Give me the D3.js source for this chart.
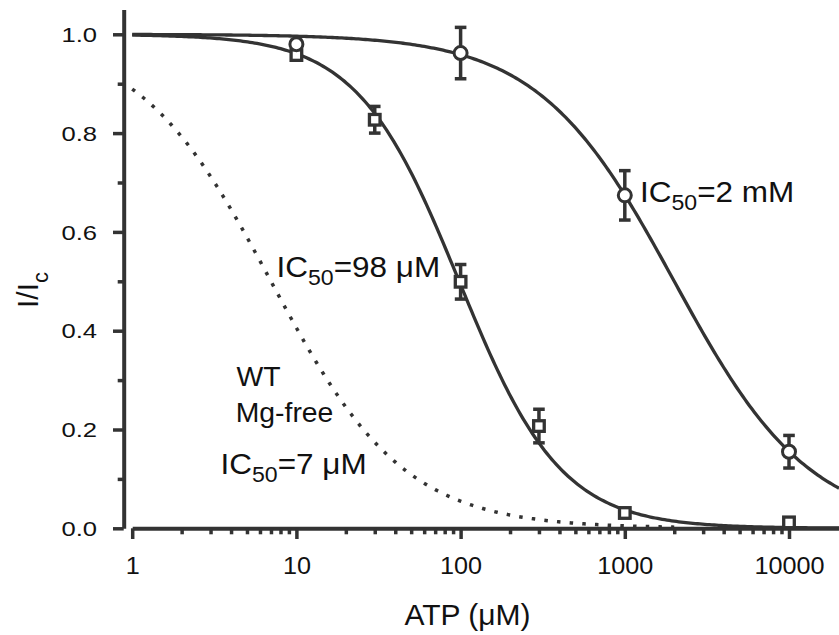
<!DOCTYPE html>
<html>
<head>
<meta charset="utf-8">
<script src="https://cdn.jsdelivr.net/npm/d3@7/dist/d3.min.js"></script>
<style>
  html, body { margin: 0; padding: 0; background: #fff; }
  svg { display: block; }
  text { font-family: "Liberation Sans", Arial, Helvetica, sans-serif; fill: #111; }
</style>
</head>
<body>
<svg id="chart" width="839" height="635"></svg>
<script>
// ATP concentration-response: measured points (µM, normalised current I/Ic)
const atpCircle = [10, 100, 1000, 10000];
const valCircle = [0.98, 0.962, 0.674, 0.155];
const errCircle = [0.008, 0.052, 0.05, 0.033];

const atpSquare = [10, 30, 100, 300, 1000, 10000];
const valSquare = [0.958, 0.827, 0.499, 0.207, 0.031, 0.012];
const errSquare = [0.008, 0.027, 0.035, 0.034, 0.004, 0.004];

// Hill fits: [IC50 (µM), Hill coefficient]
const fitCircle = [2000, 1.05];
const fitSquare = [98, 1.4];
const fitMgFree = [7, 1.07];

// axis ticks
const xMajor = [1, 10, 100, 1000, 10000];
const xMinorMultipliers = [2, 3, 4, 5, 6, 7, 8, 9];
const yMajor = [0, 0.2, 0.4, 0.6, 0.8, 1.0];
const yMinor = [0.1, 0.3, 0.5, 0.7, 0.9];

const ink = "#333";
const svg = d3.select("#chart");

const x = d3.scaleLog().domain([1, 20160]).range([132.2, 839]);
const y = d3.scaleLinear().domain([0, 1.05]).range([528.3, 9.6]);

const hill = ([ic50, n]) => c => 1 / (1 + Math.pow(c / ic50, n));

// sample a fitted curve along log-spaced concentrations
function curvePoints(fit, lo, hi) {
  const f = hill(fit);
  const a = Math.log10(lo), b = Math.log10(hi);
  return d3.range(0, 301).map(i => {
    const c = Math.pow(10, a + (b - a) * i / 300);
    return [c, f(c)];
  });
}
const line = d3.line().x(d => x(d[0])).y(d => y(d[1]));

// fitted curves
svg.append("path").datum(curvePoints(fitMgFree, 1, 2000))
  .attr("d", line).attr("fill", "none").attr("stroke", ink)
  .attr("stroke-width", 3.5).attr("stroke-dasharray", "3.5,9.2");
svg.append("path").datum(curvePoints(fitSquare, 1, 20160))
  .attr("d", line).attr("fill", "none").attr("stroke", ink).attr("stroke-width", 3.3);
svg.append("path").datum(curvePoints(fitCircle, 1, 20160))
  .attr("d", line).attr("fill", "none").attr("stroke", ink).attr("stroke-width", 3.3);

// axes
const xMinor = [];
[1, 10, 100, 1000].forEach(d => xMinorMultipliers.forEach(m => xMinor.push(d * m)));

const gx = svg.append("g").attr("transform", `translate(0,${y(0)})`);
gx.call(d3.axisBottom(x).tickValues(xMajor).tickSize(10.7).tickSizeOuter(0)
  .tickFormat(d => String(d)));
const gxm = svg.append("g").attr("transform", `translate(0,${y(0)})`);
gxm.call(d3.axisBottom(x).tickValues(xMinor).tickSize(6).tickSizeOuter(0).tickFormat(""));
gxm.select(".domain").remove();

const gy = svg.append("g").attr("transform", `translate(${123.7},0)`);
gy.call(d3.axisLeft(y).tickValues(yMajor).tickSize(10.7).tickSizeOuter(0)
  .tickFormat(d3.format(".1f")));
const gym = svg.append("g").attr("transform", `translate(${123.7},0)`);
gym.call(d3.axisLeft(y).tickValues(yMinor).tickSize(6).tickSizeOuter(0).tickFormat(""));
gym.select(".domain").remove();

[gx, gxm, gy, gym].forEach(g => {
  g.selectAll(".domain").attr("stroke", ink).attr("stroke-width", 4);
  g.selectAll(".tick line").attr("stroke", ink).attr("stroke-width", 3.5);
});

const sxX = 1.05, sxY = 1.22;
gx.selectAll(".tick text")
  .attr("font-size", 24).attr("fill", "#111").attr("font-family", null)
  .attr("y", 28.7).attr("dy", "0.71em")
  .attr("transform", `scale(${sxX},1)`);
gy.selectAll(".tick text")
  .attr("font-size", 21).attr("fill", "#111").attr("font-family", null)
  .attr("x", -26.7 / sxY).attr("dy", "0.34em")
  .attr("transform", `scale(${sxY},1)`);

// error bars
function errorBars(xs, vs, es) {
  const g = svg.append("g").attr("stroke", ink).attr("stroke-width", 3.5).attr("fill", "none");
  xs.forEach((c, i) => {
    const cx = x(c), lo = y(vs[i] - es[i]), hi = y(vs[i] + es[i]);
    g.append("line").attr("x1", cx).attr("x2", cx).attr("y1", lo).attr("y2", hi);
    g.append("line").attr("x1", cx - 5.8).attr("x2", cx + 5.8).attr("y1", lo).attr("y2", lo);
    g.append("line").attr("x1", cx - 5.8).attr("x2", cx + 5.8).attr("y1", hi).attr("y2", hi);
  });
}
errorBars(atpSquare, valSquare, errSquare);
errorBars(atpCircle, valCircle, errCircle);

// markers
svg.append("g").selectAll("rect").data(atpSquare).join("rect")
  .attr("x", d => x(d) - 5.3)
  .attr("y", (d, i) => y(valSquare[i]) - 5.3)
  .attr("width", 10.6).attr("height", 10.6)
  .attr("fill", "#fff").attr("stroke", ink).attr("stroke-width", 3.3);
svg.append("g").selectAll("circle").data(atpCircle).join("circle")
  .attr("cx", d => x(d))
  .attr("cy", (d, i) => y(valCircle[i]))
  .attr("r", 6.5)
  .attr("fill", "#fff").attr("stroke", ink).attr("stroke-width", 3);

// annotations
function ic50Label(px, py, value) {
  const t = svg.append("text")
    .attr("transform", `translate(${px},${py}) scale(1.05,1)`)
    .attr("font-size", 30);
  t.append("tspan").text("IC");
  t.append("tspan").attr("font-size", 22).attr("dy", 8).text("50");
  t.append("tspan").attr("dy", -8).text("=" + value);
}
ic50Label(640, 202, "2 mM");
ic50Label(276.5, 277, "98 \u03bcM");
ic50Label(220.5, 474, "7 \u03bcM");

svg.append("text").attr("transform", "translate(236.5,386) scale(1.05,1)")
  .attr("font-size", 27).text("WT");
svg.append("text").attr("transform", "translate(235.7,421.7) scale(1.05,1)")
  .attr("font-size", 27).text("Mg-free");

// axis titles
svg.append("text")
  .attr("x", 467.5).attr("y", 625)
  .attr("text-anchor", "middle").attr("font-size", 30)
  .text("ATP (\u03bcM)");

const yt = svg.append("text")
  .attr("transform", "translate(38.3,290) rotate(-90)")
  .attr("text-anchor", "middle").attr("font-size", 30);
yt.append("tspan").text("I/I");
yt.append("tspan").attr("font-size", 22).attr("dy", 10).text("c");
</script>
</body>
</html>
